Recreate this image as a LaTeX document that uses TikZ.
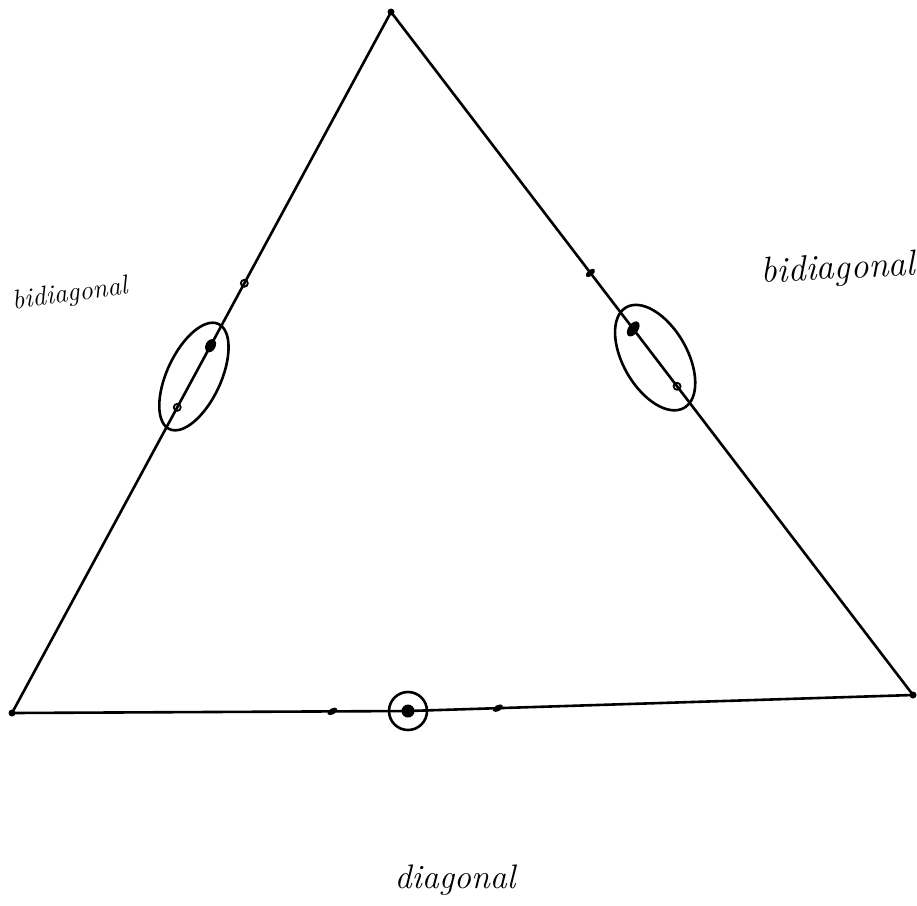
\documentclass[tikz,border=0pt]{standalone}
\usetikzlibrary{calc,shapes.geometric}
\begin{document}
\begin{tikzpicture}[
  x=1pt, y=-1pt,
  edge/.style    ={line width=2.6pt, line join=round},
  loop/.style    ={draw, line width=2.6pt, ellipse, inner sep=0pt},
  bigdot/.style  ={fill, ellipse, inner sep=0pt,
                   minimum width=14pt, minimum height=10pt},
  smalldot/.style={draw, circle, line width=1.8pt, inner sep=0pt,
                   minimum size=7pt},
  tick/.style    ={fill, ellipse, inner sep=0pt,
                   minimum width=11pt, minimum height=6pt},
  vtx/.style     ={fill, circle, inner sep=0pt, minimum size=7pt},
  hand/.style    ={font=\itshape\fontsize{27}{30}\selectfont}
]
\useasboundingbox (0,0) rectangle (917,905);

%% ---- Triangle ----------------------------------------------------------
\node[vtx] (vtop)   at (391,12)  {};
\node[vtx] (vleft)  at (12,713)  {};
\node[vtx] (vright) at (913,695) {};
\node[fill, circle, inner sep=0pt, minimum size=13pt]
           (bdot)   at (408,711) {};

\draw[edge] (vleft.center) -- (vtop.center) -- (vright.center)
            -- (bdot.center) -- cycle;

%% ---- Left side (bidiagonal) --------------------------------------------
\node[smalldot]            (ltick)  at ($(vleft)!0.613!(vtop)$) {};
\node[bigdot, rotate=62]   (ldot)   at ($(vleft)!0.524!(vtop)$) {};
\node[smalldot]            (lsmall) at ($(vleft)!0.436!(vtop)$) {};
\node[loop, rotate=65, minimum width=116pt, minimum height=54pt]
     (lloop) at ($(ldot)!0.5!(lsmall)$) {};

%% ---- Right side (bidiagonal) -------------------------------------------
\node[tick, rotate=40]     (rtick)  at ($(vtop)!0.382!(vright)$) {};
\node[bigdot, rotate=55, minimum width=17pt]
                           (rdot)   at ($(vtop)!0.464!(vright)$) {};
\node[smalldot]            (rsmall) at ($(vtop)!0.548!(vright)$) {};
\node[loop, rotate=-60, minimum width=116pt, minimum height=64pt]
     (rloop) at ($(rdot)!0.5!(rsmall)$) {};

%% ---- Bottom side (diagonal) --------------------------------------------
\node[tick, rotate=30]     (btickl) at ($(vleft)!0.809!(bdot)$) {};
\node[loop, circle, minimum size=38pt] (bloop) at (bdot) {};
\node[tick, rotate=30]     (btickr) at ($(bdot)!0.178!(vright)$) {};

% labels
\node[hand, rotate=8]  (lblleft)  at (70,295)  {bidiagonal};
\node[hand, rotate=3, font=\itshape\fontsize{36}{40}\selectfont]
                       (lblright) at (838,270) {bidiagonal};
\node[hand, font=\itshape\fontsize{34}{38}\selectfont]
                       (lblbot)   at (455,880) {diagonal};

\end{tikzpicture}
\end{document}
